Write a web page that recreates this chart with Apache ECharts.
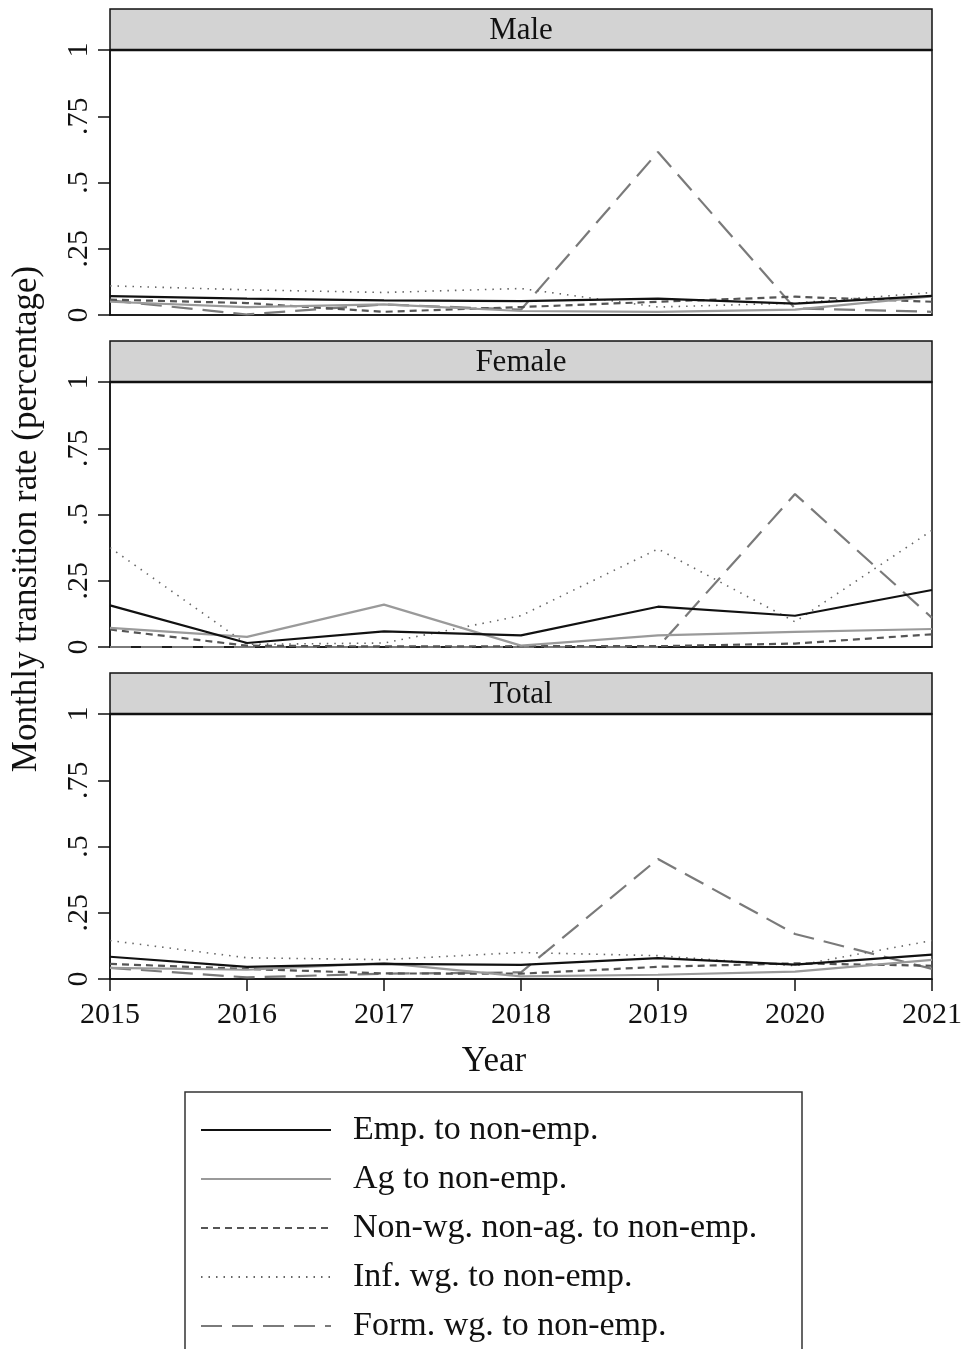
<!DOCTYPE html>
<html>
<head>
<meta charset="utf-8">
<script src="https://cdn.jsdelivr.net/npm/echarts@6/dist/echarts.min.js"></script>
<style>
  html, body { margin: 0; padding: 0; background: #fff; }
  #chart { width: 961px; height: 1349px; }
</style>
</head>
<body>
<div id="chart"></div>
<script>
// Years on the x axis
const years = ['2015', '2016', '2017', '2018', '2019', '2020', '2021'];
const yTicks = ['0', '.25', '.5', '.75', '1'];
const panels = ['Male', 'Female', 'Total'];
const seriesNames = [
  'Emp. to non-emp.',
  'Ag to non-emp.',
  'Non-wg. non-ag. to non-emp.',
  'Inf. wg. to non-emp.',
  'Form. wg. to non-emp.'
];

// Male
const maleEmp   = [0.071, 0.062, 0.055, 0.052, 0.062, 0.043, 0.072];
const maleAg    = [0.050, 0.030, 0.040, 0.015, 0.012, 0.020, 0.070];
const maleNonWg = [0.058, 0.045, 0.012, 0.030, 0.050, 0.069, 0.050];
const maleInf   = [0.110, 0.095, 0.085, 0.100, 0.030, 0.045, 0.085];
const maleForm  = [0.055, 0.002, 0.040, 0.020, 0.615, 0.025, 0.012];

// Female
const femaleEmp   = [0.157, 0.015, 0.059, 0.044, 0.152, 0.118, 0.215];
const femaleAg    = [0.072, 0.038, 0.160, 0.005, 0.044, 0.057, 0.068];
const femaleNonWg = [0.066, 0.005, 0.002, 0.003, 0.003, 0.013, 0.048];
const femaleInf   = [0.375, 0.010, 0.015, 0.118, 0.370, 0.095, 0.440];
const femaleForm  = [0.000, 0.000, 0.000, 0.000, 0.000, 0.577, 0.110];

// Total
const totalEmp   = [0.084, 0.046, 0.057, 0.053, 0.079, 0.054, 0.092];
const totalAg    = [0.042, 0.035, 0.060, 0.010, 0.016, 0.028, 0.072];
const totalNonWg = [0.057, 0.038, 0.021, 0.020, 0.046, 0.059, 0.050];
const totalInf   = [0.145, 0.080, 0.073, 0.100, 0.088, 0.050, 0.145];
const totalForm  = [0.042, 0.006, 0.020, 0.025, 0.453, 0.170, 0.038];

const panelData = [
  [maleEmp, maleAg, maleNonWg, maleInf, maleForm],
  [femaleEmp, femaleAg, femaleNonWg, femaleInf, femaleForm],
  [totalEmp, totalAg, totalNonWg, totalInf, totalForm]
];

const FONT = '"Liberation Serif", "DejaVu Serif", serif';

// Line styles per series
const lineStyles = [
  { color: '#111111', width: 2.2, type: 'solid' },
  { color: '#9a9a9a', width: 2.2, type: 'solid' },
  { color: '#555555', width: 2.2, type: [7, 5] },
  { color: '#666666', width: 1.6, type: [1.5, 6] },
  { color: '#7a7a7a', width: 2.2, type: [21, 10] }
];

const L = 110, W = 822, H = 265;
const tops = [50, 382, 714];
const headerH = 41;

const grids = [], xAxes = [], yAxes = [], series = [], graphics = [];

tops.forEach((top, i) => {
  grids.push({
    left: L, top: top, width: W, height: H,
    outerBoundsMode: 'none', containLabel: false,
    show: true, borderColor: '#111', borderWidth: 1.5, backgroundColor: '#fff'
  });
  const isLast = i === tops.length - 1;
  xAxes.push({
    type: 'category', gridIndex: i, data: years, boundaryGap: false,
    axisLine: { show: true, lineStyle: { color: '#111', width: 1.5 } },
    axisTick: { show: isLast, length: 12, inside: false, alignWithLabel: true, lineStyle: { color: '#111', width: 1.5 } },
    axisLabel: { show: isLast, fontFamily: FONT, fontSize: 30, color: '#111', margin: 21 },
    splitLine: { show: false }
  });
  yAxes.push({
    type: 'value', gridIndex: i, min: 0, max: 1, interval: 0.25,
    axisLine: { show: true, lineStyle: { color: '#111', width: 1.5 } },
    axisTick: { show: true, length: 12, lineStyle: { color: '#111', width: 1.5 } },
    axisLabel: {
      fontFamily: FONT, fontSize: 30, color: '#111', rotate: 90, margin: 16,
      formatter: v => yTicks[Math.round(v / 0.25)]
    },
    splitLine: { show: false }
  });
  panelData[i].forEach((vals, k) => {
    series.push({
      name: seriesNames[k], type: 'line',
      xAxisIndex: i, yAxisIndex: i,
      data: vals, symbol: 'none', smooth: false,
      lineStyle: lineStyles[k],
      itemStyle: { color: lineStyles[k].color },
      z: 5 - k
    });
  });
  // Panel header strip
  graphics.push({
    type: 'rect', shape: { x: L, y: top - headerH, width: W, height: headerH },
    style: { fill: '#d3d3d3', stroke: '#111', lineWidth: 1.5 }, z: 10
  });
  graphics.push({
    type: 'line', shape: { x1: L, y1: top, x2: L + W, y2: top },
    style: { stroke: '#111', lineWidth: 2.5 }, z: 11
  });
  graphics.push({
    type: 'text', x: L + W / 2, y: top - headerH / 2 + 1,
    style: {
      text: panels[i], font: '31px ' + FONT, fill: '#111',
      align: 'center', verticalAlign: 'middle'
    }, z: 12
  });
});

// Axis titles
graphics.push({
  type: 'text', x: 27, y: 519, rotation: Math.PI / 2,
  style: {
    text: 'Monthly transition rate (percentage)', font: '35px ' + FONT, fill: '#111',
    align: 'center', verticalAlign: 'middle'
  }, z: 12
});
graphics.push({
  type: 'text', x: 494, y: 1062,
  style: {
    text: 'Year', font: '35px ' + FONT, fill: '#111',
    align: 'center', verticalAlign: 'middle'
  }, z: 12
});

// Legend frame
graphics.push({
  type: 'rect', shape: { x: 185, y: 1092, width: 617, height: 280 },
  style: { fill: 'none', stroke: '#333', lineWidth: 1.5 }, z: 1
});

const chart = echarts.init(document.getElementById('chart'), null, { renderer: 'canvas' });
chart.setOption({
  animation: false,
  backgroundColor: '#fff',
  grid: grids,
  xAxis: xAxes,
  yAxis: yAxes,
  series: series,
  legend: {
    data: seriesNames,
    orient: 'vertical',
    left: 200, top: 1111, height: 260, padding: 0,
    itemWidth: 130, itemHeight: 14, itemGap: 11,
    itemStyle: { opacity: 0 },
    textStyle: { fontFamily: FONT, fontSize: 34, color: '#111', lineHeight: 38, padding: [0, 0, 0, 17] },
    selectedMode: false
  },
  graphic: graphics
});
</script>
</body>
</html>
